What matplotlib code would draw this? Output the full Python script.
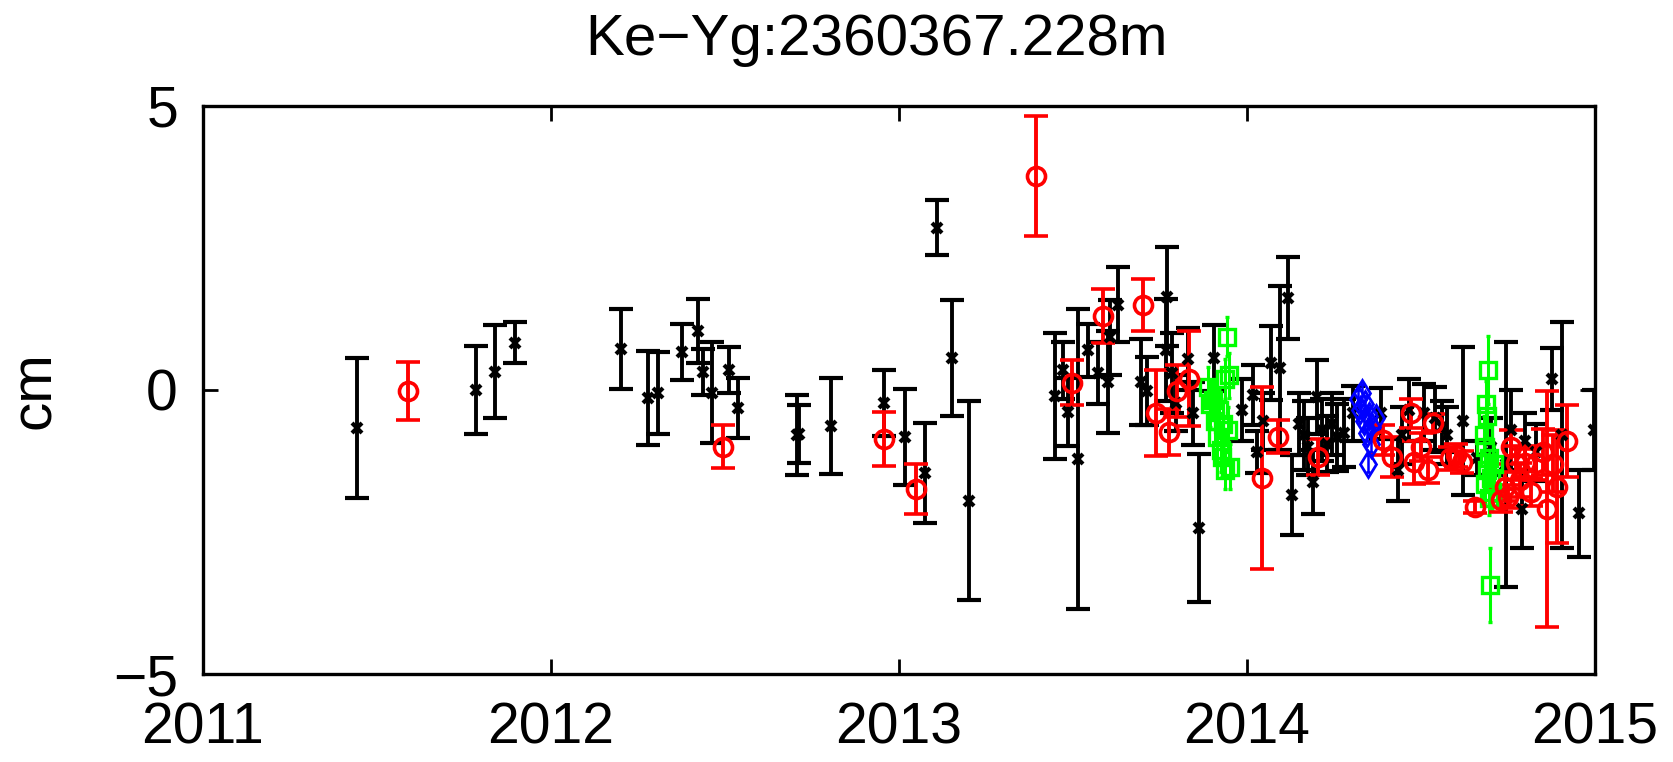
import numpy as np
import matplotlib.pyplot as plt

# baseline component time series (decimal year, offset in cm, 1-sigma in cm)
black_t = [2011.443, 2011.784, 2011.839, 2011.897, 2012.201, 2012.279, 2012.307, 2012.376,
           2012.422, 2012.437, 2012.463, 2012.511, 2012.537, 2012.707, 2012.713, 2012.805,
           2012.958, 2013.017, 2013.075, 2013.108, 2013.151, 2013.200,
           2013.448, 2013.471, 2013.486, 2013.514, 2013.543, 2013.572, 2013.606, 2013.600,
           2013.630, 2013.695, 2013.712, 2013.770, 2013.766, 2013.785, 2013.795, 2013.830,
           2013.845, 2013.862, 2013.905,
           2013.985, 2014.017, 2014.030, 2014.045, 2014.070, 2014.095, 2014.118, 2014.130,
           2014.150, 2014.165, 2014.175, 2014.190, 2014.200, 2014.215, 2014.230, 2014.245,
           2014.260, 2014.280, 2014.305, 2014.385, 2014.434, 2014.445, 2014.465, 2014.510,
           2014.540, 2014.560, 2014.575, 2014.620, 2014.660, 2014.700, 2014.745, 2014.760,
           2014.790, 2014.800, 2014.830, 2014.876, 2014.905, 2014.955, 2014.998]
black_v = [-0.67, 0.00, 0.32, 0.83, 0.72, -0.14, -0.05, 0.67,
           1.04, 0.32, -0.05, 0.35, -0.32, -0.79, -0.78, -0.63,
           -0.23, -0.83, -1.46, 2.86, 0.56, -1.95,
           -0.10, 0.35, -0.39, -1.22, 0.70, 0.30, 0.93, 0.14,
           1.50, 0.14, -0.02, 1.64, 0.70, 0.30, -0.23, 0.55,
           -0.41, -2.43, 0.56,
           -0.35, -0.09, -1.10, -0.55, 0.47, 0.39, 1.62, -1.85,
           -0.60, -0.80, -1.00, -1.62, -0.12, -0.70, -0.95, -0.60,
           -0.83, -0.75, -0.41, -0.41, -1.41, -0.80, -0.35, -0.40,
           -0.50, -0.65, -0.80, -0.55, -1.20, -1.00, -1.31, -0.70,
           -2.10, -0.90, -1.10, 0.19, -0.80, -2.17, -0.70]
black_e = [1.24, 0.77, 0.82, 0.36, 0.70, 0.82, 0.72, 0.49,
           0.56, 0.41, 0.89, 0.41, 0.53, 0.71, 0.51, 0.85,
           0.58, 0.85, 0.88, 0.48, 1.02, 1.75,
           1.11, 0.50, 0.60, 2.64, 0.47, 0.55, 0.66, 0.90,
           0.66, 0.75, 0.60, 0.87, 0.90, 0.70, 0.50, 0.55,
           0.55, 1.30, 0.58,
           0.55, 0.53, 0.37, 0.50, 0.65, 1.44, 0.72, 0.70,
           0.55, 0.60, 0.50, 0.57, 0.65, 0.55, 0.50, 0.55,
           0.59, 0.60, 0.48, 0.45, 0.54, 0.50, 0.55, 0.50,
           0.55, 0.45, 0.50, 1.30, 0.30, 0.50, 2.16, 0.70,
           0.68, 0.50, 0.50, 0.55, 1.99, 0.77, 0.70]

red_t = [2011.589, 2012.494, 2012.957, 2013.048, 2013.393, 2013.496, 2013.586, 2013.700,
         2013.739, 2013.776, 2013.800, 2013.833, 2014.043, 2014.089, 2014.204, 2014.390,
         2014.416, 2014.470, 2014.480, 2014.500, 2014.520, 2014.535, 2014.583, 2014.600,
         2014.618, 2014.655, 2014.730, 2014.740, 2014.750, 2014.760, 2014.772, 2014.785,
         2014.800, 2014.815, 2014.830, 2014.850, 2014.862, 2014.880, 2014.890, 2014.920]
red_v = [-0.02, -1.00, -0.86, -1.75, 3.77, 0.13, 1.30, 1.50,
         -0.40, -0.74, -0.02, 0.20, -1.55, -0.82, -1.18, -0.88,
         -1.18, -0.41, -1.27, -1.00, -1.41, -0.58, -1.20, -1.15,
         -1.27, -2.06, -1.94, -1.70, -1.88, -1.00, -1.29, -1.58,
         -1.29, -1.80, -1.29, -1.09, -2.10, -1.30, -1.70, -0.90]
red_e = [0.51, 0.38, 0.48, 0.44, 1.05, 0.40, 0.48, 0.46,
         0.76, 0.41, 0.46, 0.83, 1.60, 0.29, 0.31, 0.27,
         0.35, 0.26, 0.38, 0.25, 0.23, 0.15, 0.20, 0.20,
         0.20, 0.10, 0.20, 0.25, 0.20, 0.30, 0.30, 0.30,
         0.25, 0.25, 0.30, 0.40, 2.08, 0.50, 1.00, 0.64]

green_t = [2013.888, 2013.895, 2013.902, 2013.908, 2013.914, 2013.920, 2013.925, 2013.928,
           2013.931, 2013.936, 2013.942, 2013.945, 2013.948, 2013.950, 2013.938,
           2014.693, 2014.688, 2014.690, 2014.680, 2014.685, 2014.695, 2014.690, 2014.700,
           2014.685, 2014.705, 2014.695, 2014.710, 2014.698]
green_v = [0.05, -0.25, -0.18, -0.55, -0.83, -0.35, -1.05, -1.18,
           -0.60, 0.20, 0.94, -0.70, 0.26, -1.35, -1.40,
           0.35, -0.25, -0.45, -0.80, -1.00, -1.20, -1.40, -1.55,
           -1.65, -1.80, -1.90, -1.30, -3.43]
green_e = [0.35, 0.40, 0.35, 0.40, 0.40, 0.35, 0.40, 0.35,
           0.40, 0.35, 0.35, 0.40, 0.40, 0.40, 0.35,
           0.60, 0.40, 0.40, 0.35, 0.40, 0.35, 0.35, 0.35,
           0.35, 0.30, 0.30, 0.35, 0.65]

blue_t = [2014.318, 2014.325, 2014.330, 2014.335, 2014.340, 2014.345, 2014.350, 2014.355,
          2014.360, 2014.348, 2014.370]
blue_v = [-0.15, -0.35, -0.05, -0.55, -0.25, -0.75, -0.45, -0.95, -0.65, -1.30, -0.50]
blue_e = [0.15, 0.15, 0.15, 0.15, 0.15, 0.15, 0.15, 0.15, 0.15, 0.15, 0.15]

plt.rcParams['font.family'] = ['Liberation Sans', 'DejaVu Sans']

fig = plt.figure(figsize=(16.73, 7.62), dpi=100)
ax = fig.add_axes([203 / 1673, 88 / 762, 1392 / 1673, 568 / 762])

ax.errorbar(black_t, black_v, yerr=black_e, fmt='x', color='k', ms=7, mew=3,
            elinewidth=2.8, capsize=8.5, capthick=2.8)
ax.errorbar(green_t, green_v, yerr=green_e, fmt='s', color=(0, 1, 0), ms=11, mew=2.4,
            mfc='none', elinewidth=2.2, capsize=1.5, capthick=2.2)
ax.errorbar(blue_t, blue_v, yerr=blue_e, fmt='d', color=(0, 0, 1), ms=13, mew=2,
            mfc='none', elinewidth=1.8, capsize=1.5, capthick=1.8)
ax.errorbar(red_t, red_v, yerr=red_e, fmt='o', color=(1, 0, 0), ms=13, mew=2.6,
            mfc='none', elinewidth=2.8, capsize=8.5, capthick=2.8)

ax.set_xlim(2011, 2015)
ax.set_ylim(-5, 5)
ax.set_xticks([2011, 2012, 2013, 2014, 2015])
ax.set_yticks([-5, 0, 5])
ax.set_yticklabels(['\u22125', '0', '5'])
ax.tick_params(direction='in', length=11, width=2, top=True, right=True, labelsize=41)
ax.tick_params(axis='x', pad=20)
ax.tick_params(axis='y', pad=18)
for s in ax.spines.values():
    s.set_linewidth(2.4)

fig.text(35 / 1673, 1 - 390 / 762, 'cm', rotation=90, ha='center', va='center', fontsize=42)
fig.text(877 / 1673, 1 - 40 / 762, 'Ke\u2212Yg:2360367.228m', ha='center', va='center',
         fontsize=42)

fig.savefig('out.png', dpi=100)
